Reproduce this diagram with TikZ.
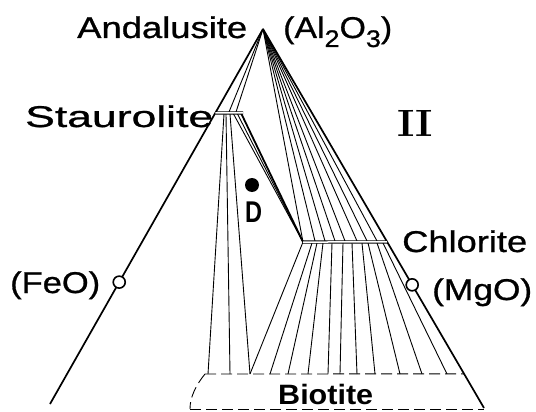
\documentclass[tikz,border=0pt]{standalone}
\usepackage{fontspec}
\usepackage{graphicx}
\setsansfont{Liberation Sans}
\newfontfamily\lblfont{Liberation Sans}[FakeBold=0.8]
\usetikzlibrary{calc}
\tikzset{
  edge/.style={line width=1.7pt},
  tie/.style={line width=0.9pt},
  tiethick/.style={line width=1.8pt},
  bar/.style={double, double distance=1.5pt, line width=0.8pt},
  dashbox/.style={line width=0.9pt, dash pattern=on 11pt off 5pt},
  oxide/.style={circle, draw, line width=1.6pt, fill=white, minimum size=12pt, inner sep=0pt},
  lbl/.style={inner sep=0pt, anchor=base west, font=\lblfont\fontsize{30}{30}\selectfont},
  dotmark/.style={circle, fill=black, minimum size=14pt, inner sep=0pt}
}
\newcommand{\fitw}[2]{\resizebox{#1}{\height}{#2}}
\begin{document}
\begin{tikzpicture}[x=1pt,y=-1pt]
\useasboundingbox (0,0) rectangle (536,412);
% corners
\coordinate (A) at (263,29);
\coordinate (L) at (50,404);
\coordinate (R) at (484,408);
% staurolite and chlorite bars
\coordinate (S1) at ($(A)!0.224!(L)$);
\coordinate (S2) at (243,113);
\coordinate (C1) at (303,242);
\coordinate (C2) at ($(A)!0.562!(R)$);
% apex to staurolite
\coordinate (sa1) at (229,112);
\coordinate (sa2) at (236,112);
\draw[tie] (A) -- (sa1);
\draw[tie] (A) -- (sa2);
% apex to chlorite
\draw[tie] (A) -- (C1);
\foreach \x [count=\i] in {315,325,335,345,357,367,377} {
  \coordinate (ca\i) at (\x,241);
  \draw[tie] (A) -- (ca\i);
}
% staurolite to chlorite
\coordinate (st1) at (233,113);
\coordinate (st2) at (237,113);
\coordinate (st3) at (241,113);
\draw[tie] (st1) -- (C1);
\draw[tie] (st2) -- (C1);
\draw[tiethick] (st3) -- (C1);
% staurolite to biotite
\foreach \t/\b [count=\i] in {224/208,226/230,230/250} {
  \coordinate (sd\i) at (\t,114);
  \coordinate (sb\i) at (\b,374);
  \draw[tie] (sd\i) -- (sb\i);
}
% chlorite to biotite
\draw[tie] (C1) -- (sb3);
\foreach \t/\b [count=\i] in {312/270,317/288,323/308,332/328,343/340,352/357,362/375,368/400,377/422,383/447} {
  \coordinate (ct\i) at (\t,243);
  \coordinate (cb\i) at (\b,374);
  \draw[tie] (ct\i) -- (cb\i);
}
% triangle edges
\draw[edge] (A) -- (L);
\draw[edge] (A) -- (R);
\draw[bar] (S1) -- (S2);
\draw[bar] (C1) -- (C2);
% biotite field
\coordinate (BT1) at (205,374);
\coordinate (BT2) at ($(A)!0.91!(R)$);
\coordinate (BB1) at (190,409);
\coordinate (BB2) at (484,409);
\draw[dashbox] (BT1) -- (BT2);
\draw[dashbox] (BB1) -- (BB2);
\draw[dashbox] (BT1) .. controls (196,385) and (190,397) .. (BB1);
% oxide points
\node[oxide] (Fe) at ($(A)!0.675!(L)$) {};
\node[oxide] (Mg) at ($(A)!0.675!(R)$) {};
% bulk composition D
\node[dotmark] (dot) at (252,185) {};
% labels
\node[lbl] (tAnd) at (77,38) {\fitw{170pt}{Andalusite}};
\node[lbl] (tAl) at (283,38) {\fitw{109pt}{(Al\raisebox{-9pt}{\fontsize{24}{24}\selectfont 2}O\raisebox{-9pt}{\fontsize{24}{24}\selectfont 3})}};
\node[lbl] (tSt) at (25,127) {\fitw{188pt}{Staurolite}};
\node[lbl] (tCh) at (402,252) {\fitw{125pt}{Chlorite}};
\node[lbl] (tFe) at (10,293) {\fitw{90pt}{(FeO)}};
\node[lbl] (tMg) at (432,300) {\fitw{100pt}{(MgO)}};
\node[lbl, font=\sffamily\bfseries\fontsize{30}{30}\selectfont] (tD) at (245,222) {\fitw{17pt}{D}};
\node[lbl, font=\sffamily\bfseries\fontsize{28}{28}\selectfont] (tBi) at (278,404) {\fitw{95pt}{Biotite}};
\node[lbl, font=\rmfamily\bfseries\fontsize{38}{38}\selectfont] (tII) at (397,137) {\fitw{36pt}{II}};
\end{tikzpicture}
\end{document}
